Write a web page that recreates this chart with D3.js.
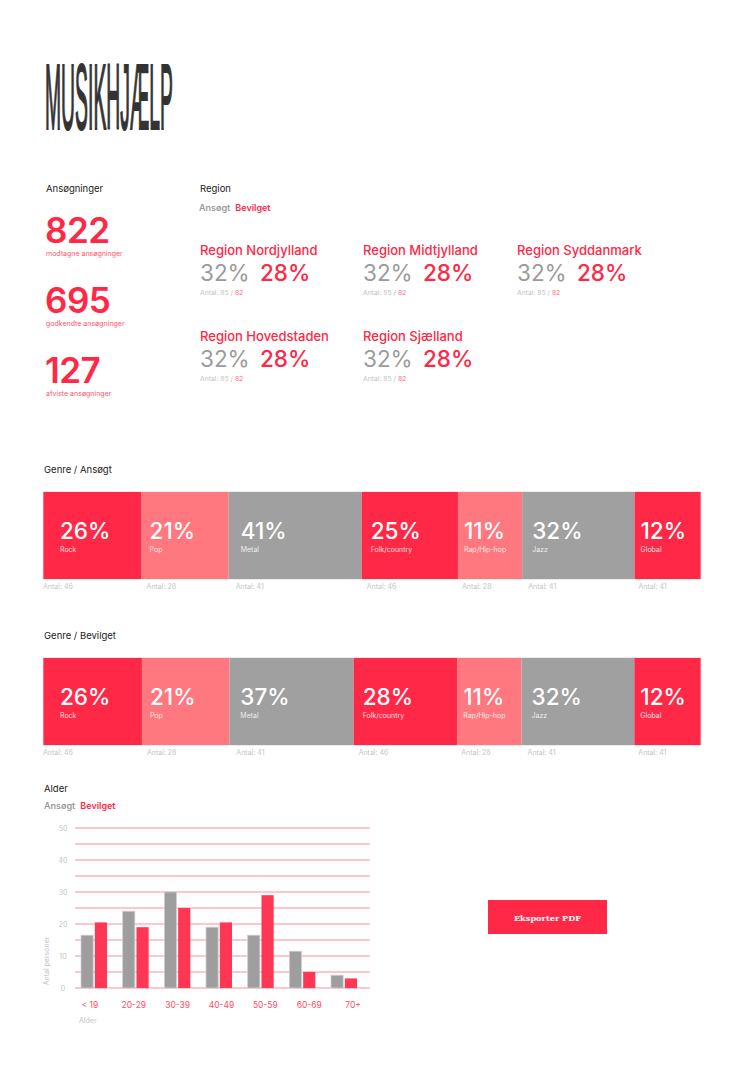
<!DOCTYPE html>
<html>
<head>
<meta charset="utf-8">
<script src="https://cdn.jsdelivr.net/npm/d3@7"></script>
<style>
  html, body { margin: 0; padding: 0; background: #fff; }
  svg { display: block; font-family: Inter, "Noto Sans", sans-serif; }
</style>
</head>
<body>
<div id="chart"></div>
<script>
// --- data ---
const totals = [822, 695, 127];
const totalLabels = ["modtagne ansøgninger", "godkendte ansøgninger", "afviste ansøgninger"];

const regions = ["Region Nordjylland", "Region Midtjylland", "Region Syddanmark", "Region Hovedstaden", "Region Sjælland"];
const regionAnsogtPct = [32, 32, 32, 32, 32];
const regionBevilgetPct = [28, 28, 28, 28, 28];
const regionAnsogtAntal = [85, 85, 85, 85, 85];
const regionBevilgetAntal = [82, 82, 82, 82, 82];

const genres = ["Rock", "Pop", "Metal", "Folk/country", "Rap/Hip-hop", "Jazz", "Global"];
const genreAnsogtPct = [26, 21, 41, 25, 11, 32, 12];
const genreAnsogtAntal = [46, 28, 41, 46, 28, 41, 41];
const genreBevilgetPct = [26, 21, 37, 28, 11, 32, 12];
const genreBevilgetAntal = [46, 28, 41, 46, 28, 41, 41];

const ageGroups = ["< 19", "20-29", "30-39", "40-49", "50-59", "60-69", "70+"];
const ageAnsogt = [16.5, 24, 30, 19, 16.5, 11.5, 4];
const ageBevilget = [20.5, 19, 25, 20.5, 29, 5, 3];
const ageTicks = [0, 10, 20, 30, 40, 50];

// --- colours ---
const red = "#ff2846";
const pink = "#ff787f";
const gray = "#a0a0a0";
const dark = "#222";
const light = "#c4c4c4";
const segColors = [red, pink, gray];

const W = 734, H = 1070;
const svg = d3.select("#chart").append("svg")
  .attr("width", W).attr("height", H);
svg.append("rect").attr("width", W).attr("height", H).attr("fill", "#fff");

// logo
svg.append("text")
  .attr("x", 45).attr("y", 129)
  .attr("font-family", "'Liberation Sans', Arial, sans-serif")
  .attr("font-weight", 400)
  .attr("font-size", 92)
  .attr("textLength", 128)
  .attr("lengthAdjust", "spacingAndGlyphs")
  .attr("fill", "#333").attr("stroke", "#333").attr("stroke-width", 2.2)
  .attr("stroke-linejoin", "miter")
  .text("MUSIKHJÆLP");

// ansøgninger
svg.append("text").attr("x", 46).attr("y", 192)
  .attr("font-size", 9.5).attr("fill", dark).text("Ansøgninger");

const totalG = svg.append("g").selectAll("g")
  .data(totals)
  .join("g")
  .attr("transform", (d, i) => `translate(45,${243 + i * 70})`);
totalG.append("text")
  .attr("font-size", 35).attr("font-weight", 600).attr("fill", red)
  .attr("letter-spacing", -0.5)
  .text(d => d);
totalG.append("text")
  .attr("y", 13).attr("x", 1)
  .attr("font-size", 7).attr("fill", "#ff5468")
  .text((d, i) => totalLabels[i]);

// region
svg.append("text").attr("x", 200).attr("y", 192)
  .attr("font-size", 9.5).attr("fill", dark).text("Region");
const legR = svg.append("text").attr("x", 199).attr("y", 211)
  .attr("font-size", 9).attr("font-weight", 600);
legR.append("tspan").attr("fill", "#9b9b9b").text("Ansøgt");
legR.append("tspan").attr("fill", red).attr("dx", 5).text("Bevilget");

const regionCols = [200, 363, 517];
const regionG = svg.append("g").selectAll("g")
  .data(regions)
  .join("g")
  .attr("transform", (d, i) => `translate(${regionCols[i % 3]},${255 + Math.floor(i / 3) * 86})`);
regionG.append("text")
  .attr("font-size", 13).attr("font-weight", 500).attr("fill", red)
  .text(d => d);
regionG.append("text")
  .attr("y", 26).attr("font-size", 22.5).attr("fill", "#9b9b9b")
  .text((d, i) => regionAnsogtPct[i] + "%");
regionG.append("text")
  .attr("x", 60).attr("y", 26).attr("font-size", 22.5).attr("font-weight", 500).attr("fill", red)
  .text((d, i) => regionBevilgetPct[i] + "%");
const antR = regionG.append("text").attr("y", 40).attr("font-size", 6.8);
antR.append("tspan").attr("fill", light).text((d, i) => `Antal: ${regionAnsogtAntal[i]} / `);
antR.append("tspan").attr("fill", "#ff6b7c").text((d, i) => regionBevilgetAntal[i]);

// genre bars
function genreBar(title, top, pct, antal) {
  const left = 43, total = 658, base = 39, h = 87;
  svg.append("text").attr("x", 44).attr("y", top - 19)
    .attr("font-size", 9.5).attr("fill", dark).text(title);

  const sum = d3.sum(pct);
  const x = d3.scaleLinear().domain([0, sum]).range([0, total - base * pct.length]);
  const cum = d3.cumsum(pct);
  const segs = pct.map((p, i) => {
    const x0 = left + i * base + x(cum[i] - p);
    const w = base + x(p);
    return { name: genres[i], p, n: antal[i], x0, w, i };
  });

  const g = svg.append("g").selectAll("g").data(segs).join("g")
    .attr("transform", d => `translate(${d.x0},${top})`);
  g.append("rect")
    .attr("width", d => d.w).attr("height", h)
    .attr("fill", d => segColors[d.i % 3]);
  const pad = d => d.i === 0 ? 17 : Math.round(d.w * 0.09);
  g.append("text")
    .attr("x", pad).attr("y", 47)
    .attr("font-size", 22.5).attr("font-weight", 500).attr("fill", "#fff")
    .text(d => d.p + "%");
  g.append("text")
    .attr("x", pad).attr("y", 60)
    .attr("font-size", 7).attr("fill", "#fff").attr("fill-opacity", 0.85)
    .text(d => d.name);
  g.append("text")
    .attr("x", d => d.i === 0 ? 0 : Math.round(pad(d) * 0.6)).attr("y", h + 10)
    .attr("font-size", 7).attr("fill", light)
    .text(d => `Antal: ${d.n}`);

  svg.append("rect")
    .attr("x", left).attr("y", top - 0.5).attr("width", total).attr("height", h + 1)
    .attr("fill", "none").attr("stroke", "#e6e6e6").attr("stroke-width", 0.8);
}
genreBar("Genre / Ansøgt", 492, genreAnsogtPct, genreAnsogtAntal);
genreBar("Genre / Bevilget", 658, genreBevilgetPct, genreBevilgetAntal);

// alder
svg.append("text").attr("x", 44).attr("y", 792)
  .attr("font-size", 9.5).attr("fill", dark).text("Alder");
const legA = svg.append("text").attr("x", 44).attr("y", 809)
  .attr("font-size", 9).attr("font-weight", 600);
legA.append("tspan").attr("fill", "#9b9b9b").text("Ansøgt");
legA.append("tspan").attr("fill", red).attr("dx", 5).text("Bevilget");

const y = d3.scaleLinear().domain([0, 50]).range([988, 828]);
const chart = svg.append("g");
chart.append("g").selectAll("line")
  .data(d3.range(0, 51, 5))
  .join("line")
  .attr("x1", 75).attr("x2", 370)
  .attr("y1", d => y(d)).attr("y2", d => y(d))
  .attr("stroke", "#ff8f9b").attr("stroke-width", 1);
chart.append("g").selectAll("text")
  .data(ageTicks)
  .join("text")
  .attr("x", 63).attr("y", d => y(d) + 2.5)
  .attr("text-anchor", "middle")
  .attr("font-size", 7).attr("fill", light)
  .text(d => d);

const x0 = d3.scaleBand().domain(ageGroups).range([75, 363])
  .paddingInner(0.376).paddingOuter(0.144);
const x1 = d3.scaleBand().domain(["a", "b"]).range([0, x0.bandwidth()]).paddingInner(0.12);
const grp = chart.append("g").selectAll("g")
  .data(ageGroups)
  .join("g")
  .attr("transform", d => `translate(${x0(d)},0)`);
grp.append("rect")
  .attr("x", x1("a")).attr("width", x1.bandwidth())
  .attr("y", (d, i) => y(ageAnsogt[i]))
  .attr("height", (d, i) => y(0) - y(ageAnsogt[i]))
  .attr("fill", "#9e9e9e").attr("stroke", "#cfcfcf").attr("stroke-width", 0.8);
grp.append("rect")
  .attr("x", x1("b")).attr("width", x1.bandwidth())
  .attr("y", (d, i) => y(ageBevilget[i]))
  .attr("height", (d, i) => y(0) - y(ageBevilget[i]))
  .attr("fill", "#ff3755");

const xl = d3.scaleBand().domain(ageGroups).range([68, 375]);
chart.append("g").selectAll("text")
  .data(ageGroups)
  .join("text")
  .attr("x", d => xl(d) + xl.bandwidth() / 2).attr("y", 1008)
  .attr("text-anchor", "middle")
  .attr("font-size", 8.5).attr("fill", "#ff4d64")
  .text(d => d);
chart.append("text").attr("x", 79).attr("y", 1023)
  .attr("font-size", 7).attr("fill", light).text("Alder");
chart.append("text")
  .attr("transform", "translate(49,961) rotate(-90)")
  .attr("text-anchor", "middle")
  .attr("font-size", 7).attr("fill", light).text("Antal personer");

// export button
const btn = svg.append("g").attr("transform", "translate(488,900)");
btn.append("rect").attr("width", 119).attr("height", 34).attr("fill", red);
btn.append("text")
  .attr("x", 59.5).attr("y", 20.5).attr("text-anchor", "middle")
  .attr("font-family", "'DejaVu Serif', serif").attr("font-weight", 700)
  .attr("font-size", 8.2).attr("fill", "#fff")
  .text("Eksporter PDF");
</script>
</body>
</html>
